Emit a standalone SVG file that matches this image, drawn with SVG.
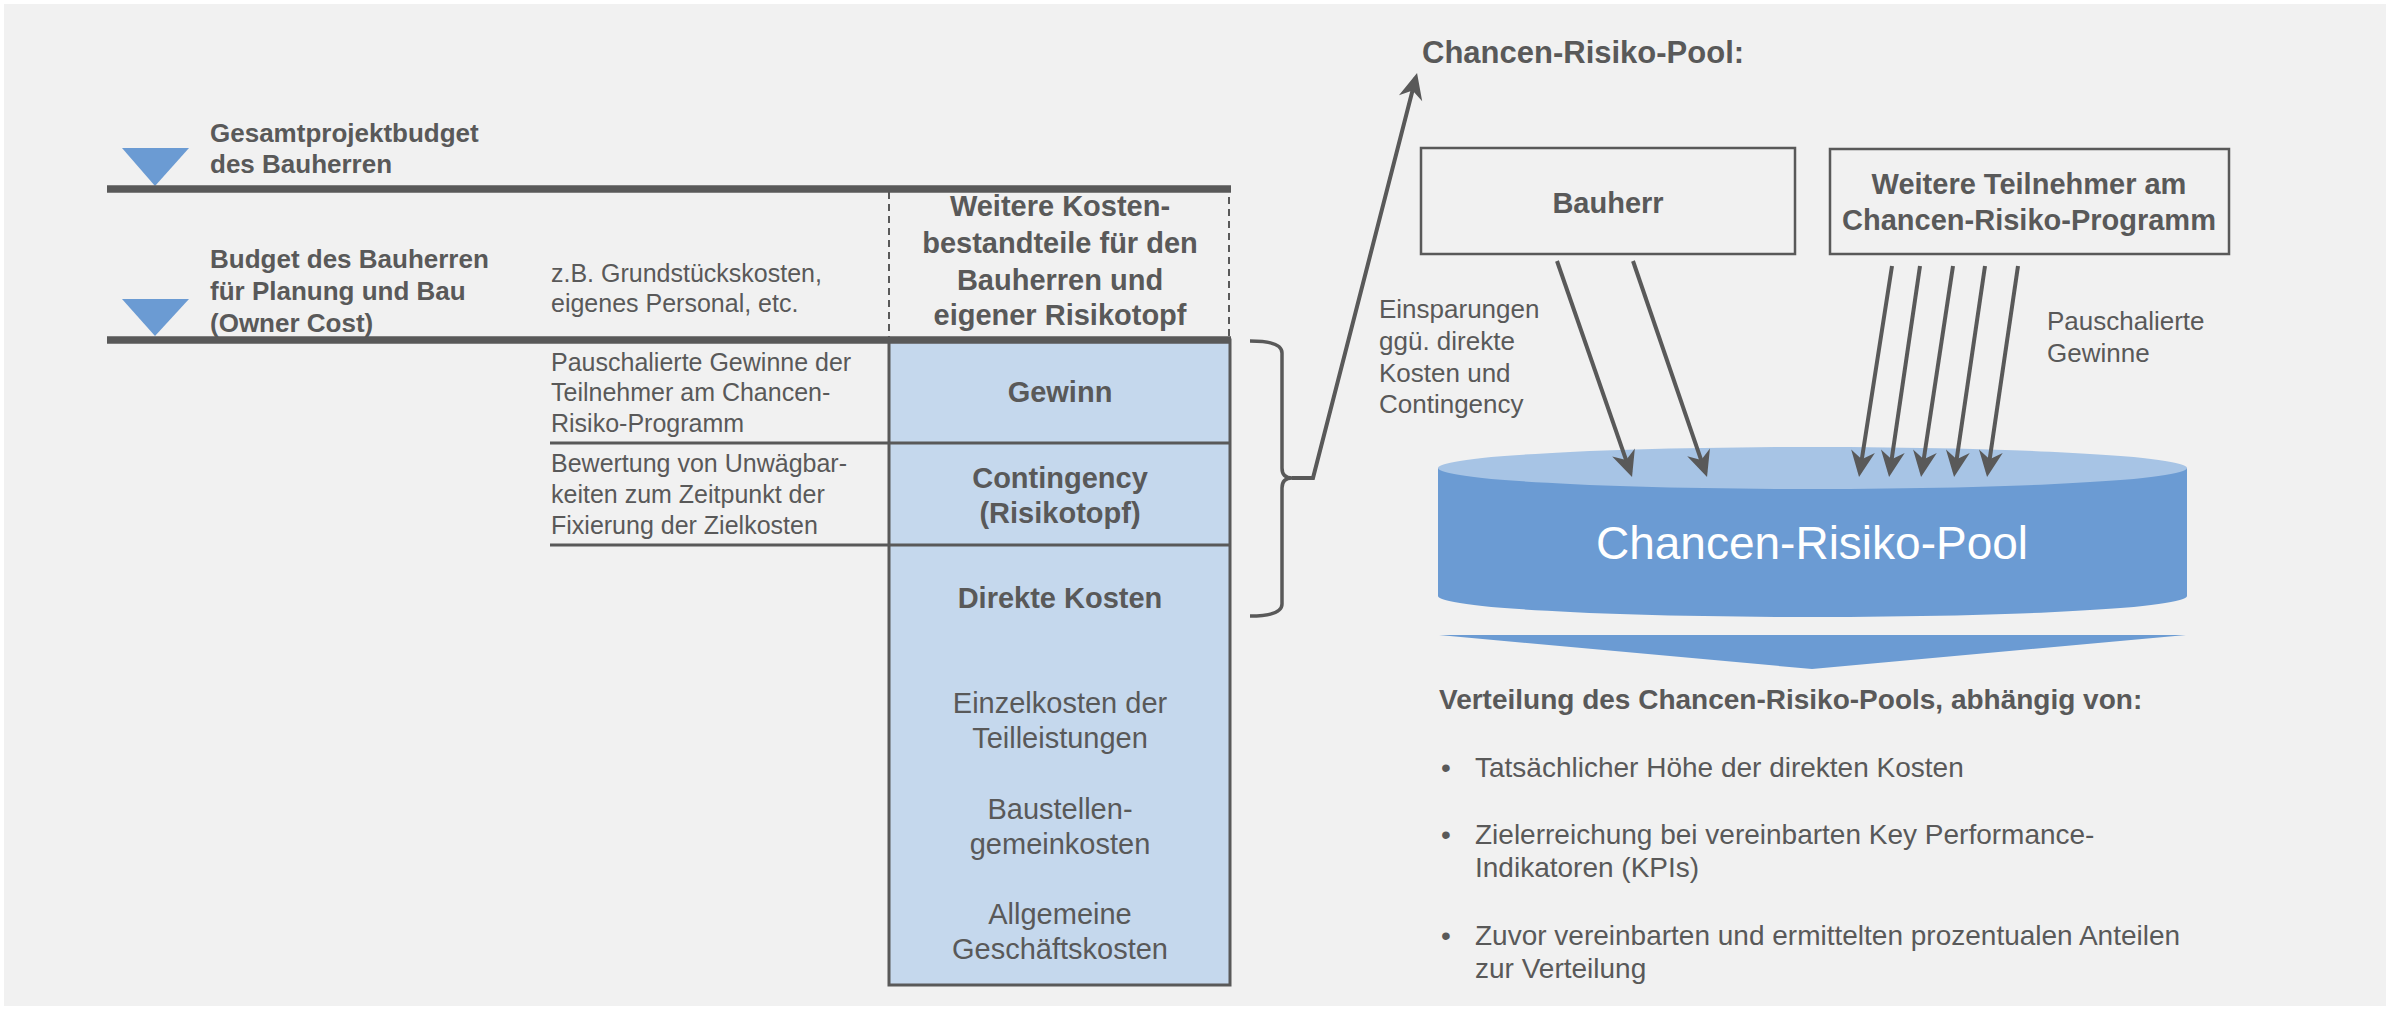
<svg xmlns="http://www.w3.org/2000/svg" width="2394" height="1011" viewBox="0 0 2394 1011">
<style>
text { font-family: "Liberation Sans", Arial, sans-serif; fill: #595959; }
.b { font-weight: bold; }
.lbl { font-size: 29px; font-weight: bold; text-anchor: middle; }
.side { font-size: 25px; }
.rs { font-size: 26px; }
.reg29 { font-size: 29px; text-anchor: middle; }
.bul { font-size: 28px; }
.thick { stroke: #595959; stroke-width: 7.5; fill: none; }
.thin { stroke: #595959; stroke-width: 3; fill: none; }
.conn { stroke: #595959; stroke-width: 4; fill: none; marker-end: url(#ah); }
.box { fill: none; stroke: #595959; stroke-width: 2.5; }
.tri { fill: #6b9bd3; }
</style>
<defs>
<marker id="ah" markerUnits="userSpaceOnUse" markerWidth="40" markerHeight="40" viewBox="-30 -20 40 40" refX="-5" refY="0" orient="auto">
<path d="M0,0 L-26,-12 L-18,0 L-26,12 Z" fill="#595959"/>
</marker>
</defs>
<rect x="0" y="0" width="2394" height="1011" fill="#ffffff"/>
<rect x="4" y="4" width="2382" height="1002" fill="#f1f1f1"/>

<g id="level-gesamt">
<polygon class="tri" points="122,148 189,148 155,186"/>
<text class="b" font-size="26" x="210" y="142">Gesamtprojektbudget</text>
<text class="b" font-size="26" x="210" y="173">des Bauherren</text>
</g>

<g id="level-owner">
<polygon class="tri" points="122,299 189,299 155,336"/>
<text class="b" font-size="26" x="210" y="268">Budget des Bauherren</text>
<text class="b" font-size="26" x="210" y="300">für Planung und Bau</text>
<text class="b" font-size="26" x="210" y="332">(Owner Cost)</text>
<text class="side" x="551" y="282">z.B. Grundstückskosten,</text>
<text class="side" x="551" y="312">eigenes Personal, etc.</text>
</g>

<g id="weitere-kosten">
<rect x="889" y="189" width="340" height="151" fill="none" stroke="#595959" stroke-width="2" stroke-dasharray="7,5"/>
<text class="lbl" x="1060" y="216">Weitere Kosten-</text>
<text class="lbl" x="1060" y="253">bestandteile für den</text>
<text class="lbl" x="1060" y="290">Bauherren und</text>
<text class="lbl" x="1060" y="325">eigener Risikotopf</text>
</g>

<g id="cost-box">
<rect x="889" y="340" width="341" height="645" fill="#c5d8ed" stroke="#595959" stroke-width="3"/>
</g>

<g id="budget-lines">
<line class="thick" x1="107" y1="189" x2="1231" y2="189"/>
<line class="thick" x1="107" y1="340" x2="1231" y2="340"/>
<line class="thin" x1="550" y1="443" x2="1230" y2="443"/>
<line class="thin" x1="550" y1="545" x2="1230" y2="545"/>
</g>

<g id="gewinn">
<text class="side" x="551" y="371">Pauschalierte Gewinne der</text>
<text class="side" x="551" y="401">Teilnehmer am Chancen-</text>
<text class="side" x="551" y="432">Risiko-Programm</text>
<text class="lbl" x="1060" y="402">Gewinn</text>
</g>

<g id="contingency">
<text class="side" x="551" y="472">Bewertung von Unwägbar-</text>
<text class="side" x="551" y="503">keiten zum Zeitpunkt der</text>
<text class="side" x="551" y="534">Fixierung der Zielkosten</text>
<text class="lbl" x="1060" y="488">Contingency</text>
<text class="lbl" x="1060" y="523">(Risikotopf)</text>
</g>

<g id="direkte-kosten">
<text class="lbl" x="1060" y="608">Direkte Kosten</text>
<text class="reg29" x="1060" y="713">Einzelkosten der</text>
<text class="reg29" x="1060" y="748">Teilleistungen</text>
<text class="reg29" x="1060" y="819">Baustellen-</text>
<text class="reg29" x="1060" y="854">gemeinkosten</text>
<text class="reg29" x="1060" y="924">Allgemeine</text>
<text class="reg29" x="1060" y="959">Geschäftskosten</text>
</g>

<g id="bracket">
<path d="M1250,341 Q1282,341 1282,353 L1282,468 Q1282,478 1292,478 Q1282,478 1282,488 L1282,604 Q1282,616 1250,616" fill="none" stroke="#595959" stroke-width="3.5"/>
</g>

<g id="title">
<text class="b" font-size="31" x="1422" y="63">Chancen-Risiko-Pool:</text>
</g>

<g id="bauherr">
<rect class="box" x="1421" y="148" width="374" height="106"/>
<text class="lbl" x="1608" y="213">Bauherr</text>
</g>

<g id="weitere-teilnehmer">
<rect class="box" x="1830" y="149" width="399" height="105"/>
<text class="lbl" x="2029" y="194">Weitere Teilnehmer am</text>
<text class="lbl" x="2029" y="230">Chancen-Risiko-Programm</text>
</g>

<g id="pool">
<path d="M1438,468 L1438,596 A374.5,21 0 0 0 2187,596 L2187,468 Z" fill="#6b9bd3"/>
<ellipse cx="1812.5" cy="468" rx="374.5" ry="21" fill="#a7c4e5"/>
<text x="1812" y="559" font-size="46" text-anchor="middle" style="fill:#ffffff">Chancen-Risiko-Pool</text>
</g>

<g id="connectors">
<path class="conn" d="M1292,478 L1313,478 L1415.8,77.8"/>
<line class="conn" x1="1557" y1="261" x2="1630.4" y2="472.3"/>
<line class="conn" x1="1633" y1="261" x2="1705.4" y2="472.3"/>
<line class="conn" x1="1892" y1="266" x2="1859.8" y2="472"/>
<line class="conn" x1="1920" y1="266" x2="1889.8" y2="472"/>
<line class="conn" x1="1953" y1="266" x2="1921.8" y2="472"/>
<line class="conn" x1="1985" y1="266" x2="1954.8" y2="472"/>
<line class="conn" x1="2018" y1="266" x2="1987.8" y2="472"/>
</g>

<g id="label-einsparungen">
<text class="rs" x="1379" y="318">Einsparungen</text>
<text class="rs" x="1379" y="350">ggü. direkte</text>
<text class="rs" x="1379" y="382">Kosten und</text>
<text class="rs" x="1379" y="413">Contingency</text>
</g>

<g id="label-pauschal">
<text class="rs" x="2047" y="330">Pauschalierte</text>
<text class="rs" x="2047" y="362">Gewinne</text>
</g>

<g id="verteilung">
<polygon class="tri" points="1439,635 2186,635 1812,669"/>
<text class="b" font-size="28" x="1439" y="709">Verteilung des Chancen-Risiko-Pools, abhängig von:</text>
<text class="bul" x="1441" y="777">•</text>
<text class="bul" x="1475" y="777">Tatsächlicher Höhe der direkten Kosten</text>
<text class="bul" x="1441" y="844">•</text>
<text class="bul" x="1475" y="844">Zielerreichung bei vereinbarten Key Performance-</text>
<text class="bul" x="1475" y="877">Indikatoren (KPIs)</text>
<text class="bul" x="1441" y="945">•</text>
<text class="bul" x="1475" y="945">Zuvor vereinbarten und ermittelten prozentualen Anteilen</text>
<text class="bul" x="1475" y="978">zur Verteilung</text>
</g>
</svg>
